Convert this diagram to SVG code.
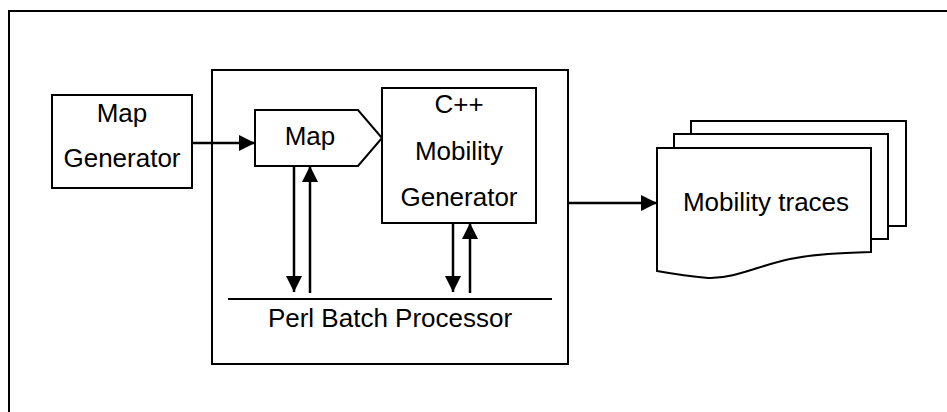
<svg xmlns="http://www.w3.org/2000/svg" width="947" height="412" viewBox="0 0 947 412">
  <style>
    .box { fill: #fff; stroke: #000; stroke-width: 2; }
    .frame { fill: none; stroke: #000; stroke-width: 2; }
    .wire { fill: none; stroke: #000; stroke-width: 2.5; }
    .rule { fill: none; stroke: #000; stroke-width: 2; }
    .lbl { font-family: "Liberation Sans", Arial, sans-serif; font-size: 26px; fill: #000; text-anchor: middle; }
  </style>
  <defs>
    <marker id="arrow" viewBox="0 0 16 16" refX="16" refY="8" markerWidth="16" markerHeight="16" markerUnits="userSpaceOnUse" orient="auto">
      <path d="M0,0 L16,8 L0,16 Z" fill="#000"/>
    </marker>
  </defs>

  <rect width="947" height="412" fill="#fff"/>

  <!-- page frame -->
  <path class="frame" d="M9,412 V11 H947"/>

  <!-- batch processor container -->
  <g id="batch-processor">
    <rect class="box" x="212" y="70" width="356" height="294"/>
    <line class="rule" x1="228" y1="299" x2="552" y2="299"/>
    <text class="lbl" x="390" y="327">Perl Batch Processor</text>
  </g>

  <g id="map-generator">
    <rect class="box" x="52" y="95" width="140" height="93"/>
    <text class="lbl" x="122" y="122">Map</text>
    <text class="lbl" x="122" y="167">Generator</text>
  </g>

  <g id="map">
    <polygon class="box" points="255,110 358,110 382,138 358,166 255,166"/>
    <text class="lbl" x="310" y="145">Map</text>
  </g>

  <g id="mobility-generator">
    <rect class="box" x="382" y="88" width="154" height="135"/>
    <text class="lbl" x="459" y="113">C++</text>
    <text class="lbl" x="459" y="160">Mobility</text>
    <text class="lbl" x="459" y="206">Generator</text>
  </g>

  <g id="mobility-traces">
    <rect class="box" x="691" y="121" width="215" height="105"/>
    <rect class="box" x="674" y="134" width="214" height="105"/>
    <path class="box" d="M657,148 H871 V252 C840,253 815,254 790,259 C760,265 735,279 708,278 Q685,276 657,271 Z"/>
    <text class="lbl" x="766" y="211">Mobility traces</text>
  </g>

  <g id="connectors">
    <line class="wire" x1="192" y1="143" x2="255" y2="143" marker-end="url(#arrow)"/>
    <line class="wire" x1="294" y1="166" x2="294" y2="292" marker-end="url(#arrow)"/>
    <line class="wire" x1="310" y1="293" x2="310" y2="166" marker-end="url(#arrow)"/>
    <line class="wire" x1="453" y1="223" x2="453" y2="292" marker-end="url(#arrow)"/>
    <line class="wire" x1="470" y1="293" x2="470" y2="223" marker-end="url(#arrow)"/>
    <line class="wire" x1="568" y1="203" x2="657" y2="203" marker-end="url(#arrow)"/>
  </g>
</svg>
